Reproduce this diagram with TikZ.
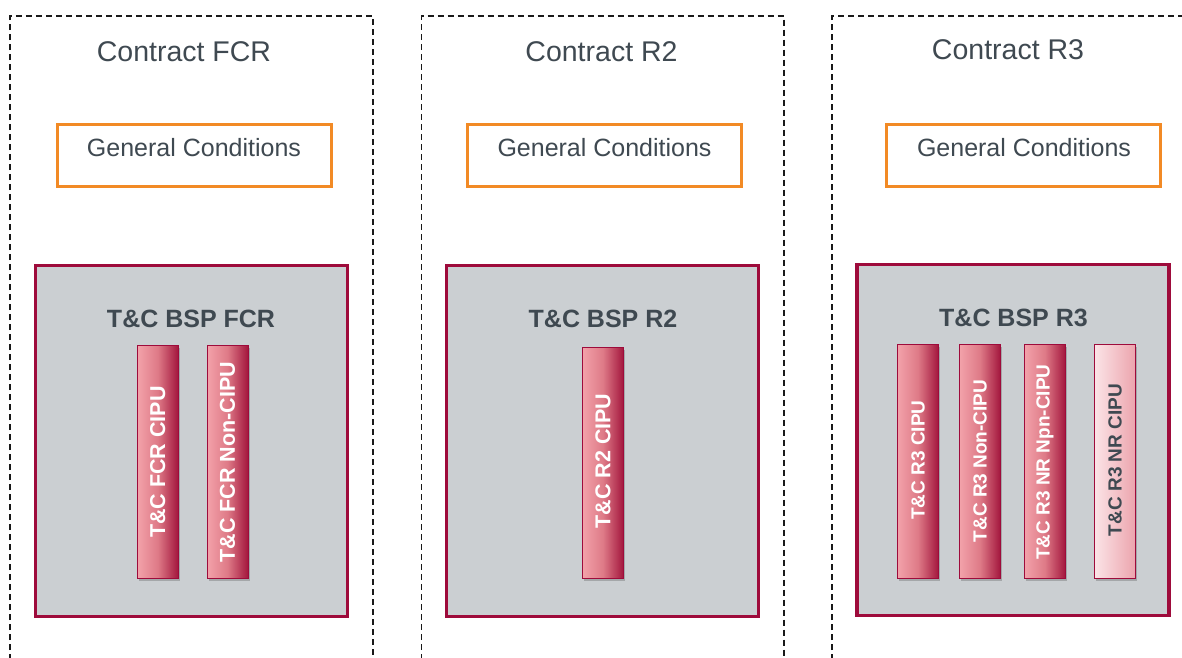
\documentclass[tikz,border=0pt]{standalone}
\usepackage{fontspec}
\setmainfont{Liberation Sans}
\usetikzlibrary{shadows}
\definecolor{crim}{HTML}{9E0B3B}
\definecolor{orng}{HTML}{F28A25}
\definecolor{gfill}{HTML}{CBCFD2}
\definecolor{txt}{HTML}{3F4951}
\definecolor{barL}{HTML}{F3A2AA}
\definecolor{barM}{HTML}{DE7A87}
\definecolor{barR}{HTML}{A3163D}
\definecolor{paleL}{HTML}{FBE4E7}
\definecolor{paleR}{HTML}{ECA4AD}
\tikzset{
  contract/.style={draw=black!90, line width=1.6pt, dash pattern=on 6pt off 4pt},
  ctitle/.style={text=txt, font=\fontsize{28.5}{30}\selectfont, inner sep=0pt},
  genbox/.style={draw=orng, line width=3pt, fill=white, minimum width=274pt, minimum height=62pt, inner sep=0pt},
  gentext/.style={text=txt, font=\fontsize{25}{27}\selectfont, inner sep=0pt},
  bspbox/.style={draw=crim, line width=3.3pt, fill=gfill, minimum width=312pt, minimum height=351pt, inner sep=0pt},
  bsptext/.style={text=txt, font=\bfseries\fontsize{25}{27}\selectfont, inner sep=0pt},
  bar/.style={draw=crim, line width=1pt, left color=barL, right color=barR, middle color=barM,
     minimum width=41pt, minimum height=233pt, inner sep=0pt,
     drop shadow={shadow xshift=1.5pt, shadow yshift=-2.5pt, opacity=0.3, fill=black!70}},
  palebar/.style={bar, left color=paleL, right color=paleR, middle color=paleL!50!paleR},
  bartext/.style={text=white, font=\bfseries\fontsize{21.5}{22}\selectfont, inner sep=0pt, rotate=90},
  bartextS/.style={bartext, font=\bfseries\fontsize{19}{20}\selectfont},
}
\begin{document}
\begin{tikzpicture}[x=1pt,y=-1pt]
\useasboundingbox (0,0) rectangle (1182,657);
\clip (0,0) rectangle (1182,657);
% contract frames (open at the bottom)
\coordinate (c1a) at (10,680); \coordinate (c1b) at (373,680);
\coordinate (c2a) at (421.5,680); \coordinate (c2b) at (784,680);
\coordinate (c3a) at (832,680); \coordinate (c3b) at (1220,680);
\draw[contract] (c1a) |- (373,16) -- (c1b);
\draw[contract] (c2a) |- (784,16) -- (c2b);
\draw[contract] (c3a) |- (1220,16) -- (c3b);
% titles
\node[ctitle] (t1) at (184,52) {Contract FCR};
\node[ctitle] (t2) at (601.5,52) {Contract R2};
\node[ctitle] (t3) at (1008,50) {Contract R3};
% general conditions
\node[genbox] (g1) at (194,155.5) {};
\node[genbox] (g2) at (604.5,155.5) {};
\node[genbox] (g3) at (1023.5,155.5) {};
\node[gentext] (gt1) at (194,147.5) {General Conditions};
\node[gentext] (gt2) at (604.5,147.5) {General Conditions};
\node[gentext] (gt3) at (1024,147.5) {General Conditions};
% BSP boxes
\node[bspbox] (b1) at (191.5,441) {};
\node[bspbox] (b2) at (602.5,441) {};
\node[bspbox] (b3) at (1013,440) {};
\node[bsptext] (bt1) at (191,318.5) {T\&C BSP FCR};
\node[bsptext] (bt2) at (603,318.5) {T\&C BSP R2};
\node[bsptext] (bt3) at (1013.5,317.5) {T\&C BSP R3};
% bars FCR
\node[bar] (f1) at (157.75,462) {};
\node[bar] (f2) at (227.5,462) {};
\node[bartext] (f1t) at (157.75,462) {T\&C FCR CIPU};
\node[bartext] (f2t) at (227.5,462) {T\&C FCR Non-CIPU};
% bar R2
\node[bar, minimum height=231pt] (r2) at (603,463) {};
\node[bartext] (r2t) at (603,461) {T\&C R2 CIPU};
% bars R3
\node[bar, minimum height=234pt] (r31) at (918,461.5) {};
\node[bar, minimum height=234pt] (r32) at (980,461.5) {};
\node[bar, minimum height=234pt] (r33) at (1045,461.5) {};
\node[palebar, minimum height=234pt] (r34) at (1115,461.5) {};
\node[bartextS] (r31t) at (918,460) {T\&C R3 CIPU};
\node[bartextS] (r32t) at (980,461) {T\&C R3 Non-CIPU};
\node[bartextS] (r33t) at (1045,462) {T\&C R3 NR Npn-CIPU};
\node[bartextS, text=txt] (r34t) at (1115,460) {T\&C R3 NR CIPU};
\end{tikzpicture}
\end{document}
